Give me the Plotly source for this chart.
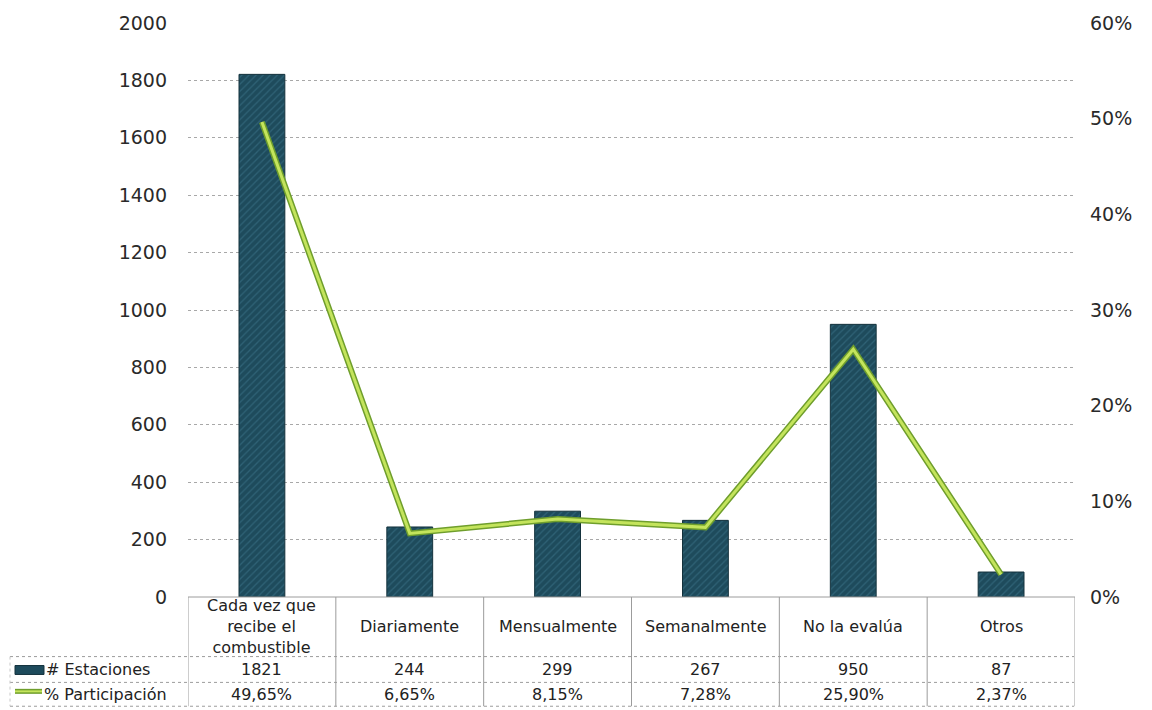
import plotly.graph_objects as go

# Datos
categorias = ["Cada vez que<br>recibe el<br>combustible", "Diariamente", "Mensualmente",
              "Semanalmente", "No la evalúa", "Otros"]
estaciones = [1821, 244, 299, 267, 950, 87]
participacion = [49.65, 6.65, 8.15, 7.28, 25.90, 2.37]
serie_barras = "# Estaciones"
serie_linea = "% Participación"

W, H = 1152, 710
L, R, T, B = 188, 77, 19, 113
plot_w = W - L - R
plot_h = H - T - B

def py(Y):
    """Pixel row -> paper y."""
    return (H - B - Y) / plot_h

def px(X):
    """Pixel column -> paper x."""
    return (X - L) / plot_w

x = list(range(len(categorias)))
bar_color = "#1e4b5c"
line_dark = "#6f9e2c"
line_light = "#c4e45c"
grid_color = "#a8a8a8"
border_color = "#9c9c9c"

fig = go.Figure()

fig.add_trace(go.Bar(
    x=x, y=estaciones, width=0.31,
    marker=dict(color=bar_color, line=dict(color="#14323d", width=1),
                pattern=dict(shape="/", fgcolor="#3f7a8f", bgcolor=bar_color,
                             size=5, solidity=0.25)),
    name=serie_barras, showlegend=False, yaxis="y",
))

pct_frac = [p / 100 for p in participacion]
fig.add_trace(go.Scatter(
    x=x, y=pct_frac, mode="lines", yaxis="y2",
    line=dict(color=line_dark, width=6), showlegend=False, hoverinfo="skip",
))
fig.add_trace(go.Scatter(
    x=x, y=pct_frac, mode="lines", yaxis="y2",
    line=dict(color=line_light, width=3), name=serie_linea, showlegend=False,
))

tick_font = dict(family="DejaVu Sans", size=19, color="#2a2a2a")
fig.update_layout(
    width=W, height=H,
    margin=dict(l=L, r=R, t=T, b=B),
    paper_bgcolor="white", plot_bgcolor="white",
    xaxis=dict(range=[-0.5, 5.5], showticklabels=False, showgrid=False,
               zeroline=False, showline=False, ticks=""),
    yaxis=dict(range=[0, 2000], dtick=200, showgrid=True, gridcolor=grid_color,
               griddash="dot", gridwidth=1, zeroline=False, showline=False,
               ticks="", tickfont=tick_font, ticklabelstandoff=20),
    yaxis2=dict(range=[0, 0.6], dtick=0.1, tickformat=".0%", overlaying="y",
                side="right", showgrid=False, zeroline=False, showline=False,
                ticks="", tickfont=tick_font, ticklabelstandoff=14),
)

shapes = []
# Bordes de la tabla de datos
y_top, y_r1, y_r2, y_r3 = 0, py(657), py(683), py(707)
shapes.append(dict(type="line", xref="x", yref="paper", x0=-0.5, x1=5.5,
                   y0=y_top, y1=y_top, line=dict(color=border_color, width=1)))
for yy in (y_r1, y_r2, y_r3):
    shapes.append(dict(type="line", xref="paper", yref="paper", x0=px(10), x1=px(1074),
                       y0=yy, y1=yy, line=dict(color=border_color, width=1, dash="dot")))
for i in range(len(categorias) + 1):
    shapes.append(dict(type="line", xref="x", yref="paper", x0=i - 0.5, x1=i - 0.5,
                       y0=y_top, y1=y_r3, line=dict(color=border_color, width=1)))
shapes.append(dict(type="line", xref="paper", yref="paper", x0=px(10), x1=px(10),
                   y0=y_r1, y1=y_r3, line=dict(color="#c8c8c8", width=1, dash="dot")))

# Claves de la leyenda dentro de la tabla
shapes.append(dict(type="rect", xref="paper", yref="paper", x0=px(15), x1=px(44),
                   y0=py(675), y1=py(666), fillcolor=bar_color,
                   line=dict(color="#14323d", width=1)))
shapes.append(dict(type="line", xref="paper", yref="paper", x0=px(15), x1=px(42),
                   y0=py(692), y1=py(692), line=dict(color=line_dark, width=5)))
shapes.append(dict(type="line", xref="paper", yref="paper", x0=px(15), x1=px(42),
                   y0=py(692), y1=py(692), line=dict(color=line_light, width=2)))

table_font = dict(family="DejaVu Sans", size=16, color="#222222")
ann = []
for i, cat in enumerate(categorias):
    ann.append(dict(x=i, y=py(627), xref="x", yref="paper", text=cat, showarrow=False,
                    font=table_font, align="center", yanchor="middle"))
    ann.append(dict(x=i, y=py(670), xref="x", yref="paper", text=str(estaciones[i]),
                    showarrow=False, font=table_font, yanchor="middle"))
    ann.append(dict(x=i, y=py(695), xref="x", yref="paper",
                    text=f"{participacion[i]:.2f}%".replace(".", ","),
                    showarrow=False, font=table_font, yanchor="middle"))
ann.append(dict(x=px(44), y=py(670), xref="paper", yref="paper", text=serie_barras,
                showarrow=False, font=table_font, xanchor="left", yanchor="middle"))
ann.append(dict(x=px(42), y=py(695), xref="paper", yref="paper", text=serie_linea,
                showarrow=False, font=table_font, xanchor="left", yanchor="middle"))

fig.update_layout(shapes=shapes, annotations=ann)

fig.write_html("out.html")
